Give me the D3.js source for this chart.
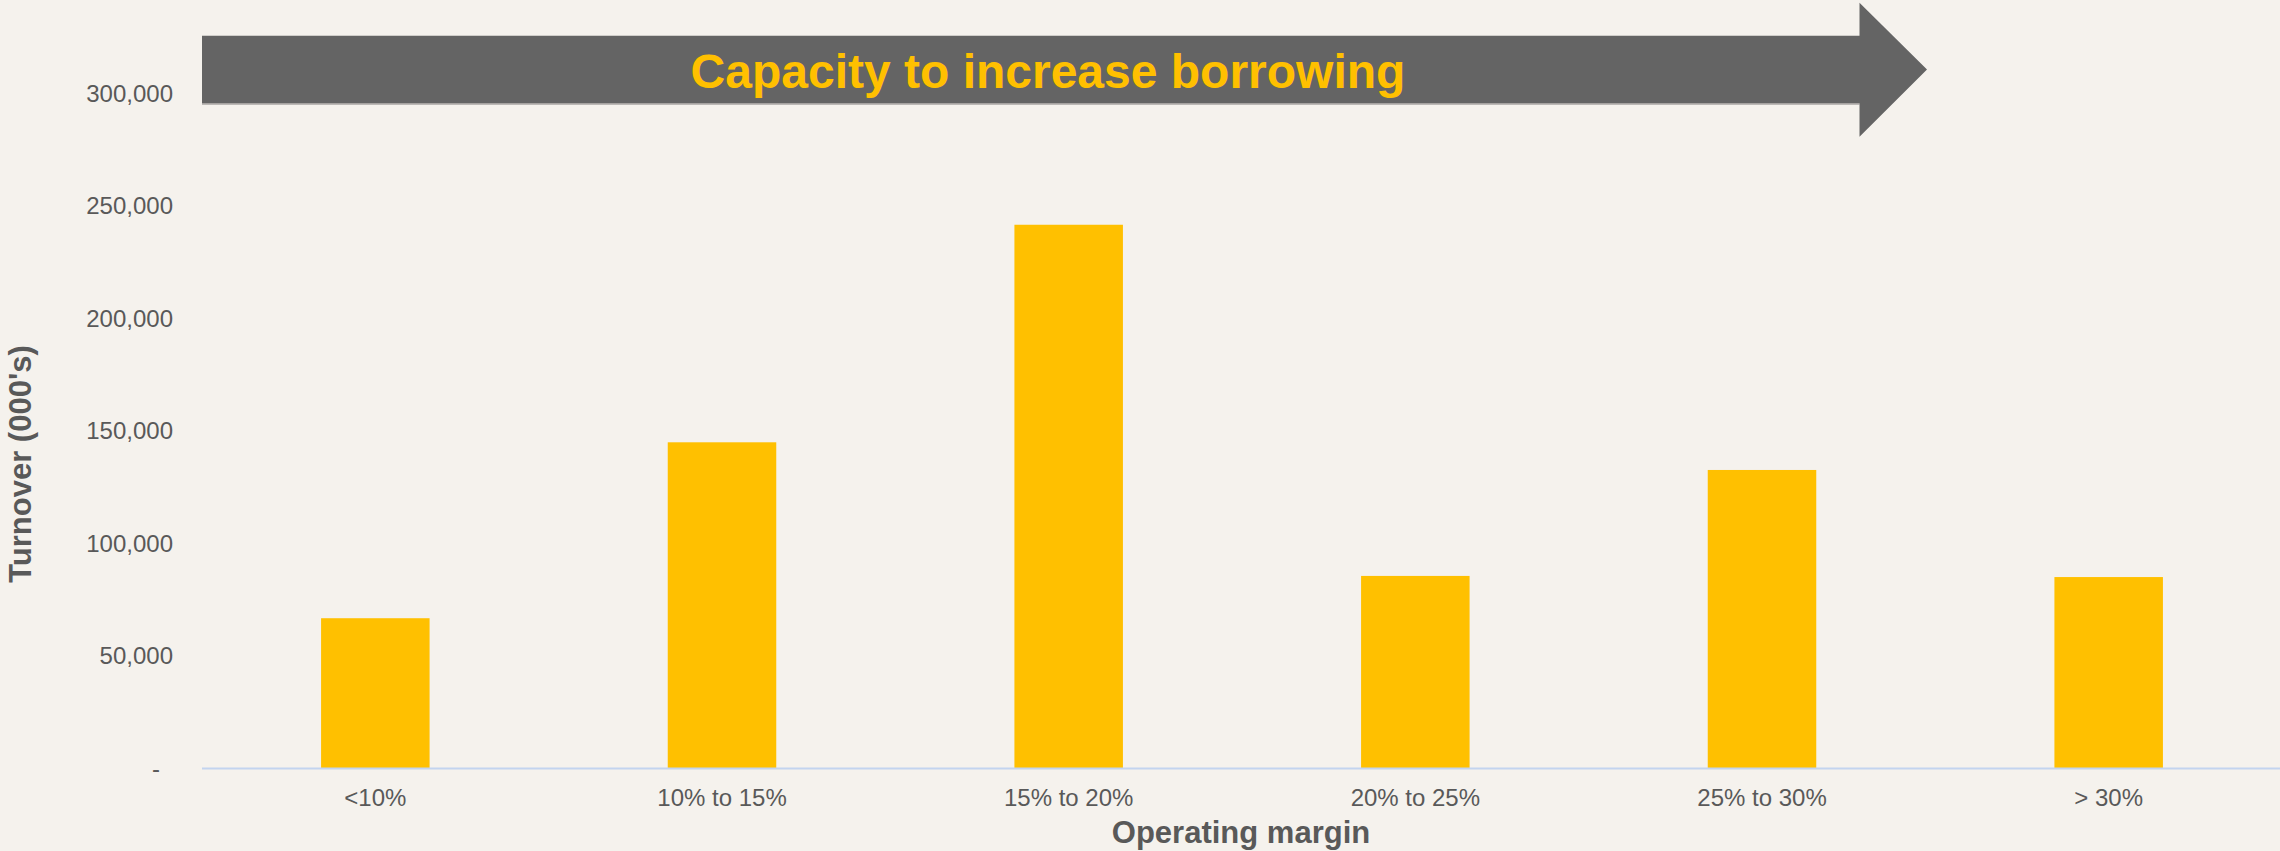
<!DOCTYPE html>
<html>
<head>
<meta charset="utf-8">
<script src="https://cdn.jsdelivr.net/npm/d3@7"></script>
<style>
    html, body { margin: 0; padding: 0; background: #f5f2ed; }
    svg { display: block; font-family: "Liberation Sans", Arial, sans-serif; }
</style>
</head>
<body>
<div id="chart"></div>
<script>
// Turnover (000's) by operating margin band
const categories = ["<10%", "10% to 15%", "15% to 20%", "20% to 25%", "25% to 30%", "> 30%"];
const turnover = [66800, 145000, 241700, 85600, 132700, 85100];
const yTicks = [0, 50000, 100000, 150000, 200000, 250000, 300000];
const arrowLabel = "Capacity to increase borrowing";

document.addEventListener('DOMContentLoaded', function () {
    drawChart();
});

function drawChart() {
    const width = 2280, height = 851;
    const textColor = "#595959";

    const svg = d3.select("#chart")
        .append("svg")
        .attr("width", width)
        .attr("height", height);

    svg.append("rect")
        .attr("width", width)
        .attr("height", height)
        .attr("fill", "#f5f2ed");

    const xScale = d3.scaleBand()
        .domain(categories)
        .range([202, 2282])
        .paddingInner(0.687)
        .paddingOuter(0.3435);

    const yScale = d3.scaleLinear().domain([0, 300000]).range([768.5, 93.6]);

    // Bars
    svg.selectAll(".bar")
        .data(categories)
        .enter()
        .append("rect")
        .attr("class", "bar")
        .attr("x", d => xScale(d))
        .attr("width", xScale.bandwidth())
        .attr("y", (d, i) => yScale(turnover[i]))
        .attr("height", (d, i) => yScale(0) - yScale(turnover[i]))
        .attr("fill", "#ffc000");

    // Baseline
    svg.append("line")
        .attr("x1", 202)
        .attr("x2", width)
        .attr("y1", yScale(0))
        .attr("y2", yScale(0))
        .attr("stroke", "#c3d4ef")
        .attr("stroke-width", 2);

    // Y axis
    const yAxis = svg.append("g")
        .attr("transform", "translate(202,0)")
        .call(d3.axisLeft(yScale)
            .tickValues(yTicks)
            .tickSize(0)
            .tickPadding(29)
            .tickFormat(d => d === 0 ? "-" : d3.format(",")(d)));
    yAxis.select(".domain").remove();
    yAxis.selectAll("text")
        .attr("fill", textColor)
        .style("font-size", "24px")
        .filter(d => d === 0)
        .attr("dx", -13);

    // X axis
    const xAxis = svg.append("g")
        .attr("transform", `translate(0,${yScale(0)})`)
        .call(d3.axisBottom(xScale).tickSize(0).tickPadding(20.5));
    xAxis.select(".domain").remove();
    xAxis.selectAll("text")
        .attr("fill", textColor)
        .style("font-size", "24px");

    // Axis titles
    svg.append("text")
        .attr("text-anchor", "middle")
        .attr("x", 1241)
        .attr("y", 843)
        .attr("fill", textColor)
        .style("font-size", "31px")
        .style("font-weight", "bold")
        .text("Operating margin");

    svg.append("text")
        .attr("text-anchor", "middle")
        .attr("transform", "translate(31,464) rotate(-90)")
        .attr("fill", textColor)
        .style("font-size", "31px")
        .style("font-weight", "bold")
        .text("Turnover (000's)");

    // Annotation arrow
    const arrow = d3.path();
    arrow.moveTo(202, 35.7);
    arrow.lineTo(1859.5, 35.7);
    arrow.lineTo(1859.5, 2.7);
    arrow.lineTo(1927, 69.5);
    arrow.lineTo(1859.5, 136.7);
    arrow.lineTo(1859.5, 103.3);
    arrow.lineTo(202, 103.3);
    arrow.closePath();

    svg.append("line")
        .attr("x1", 202)
        .attr("x2", 1859.5)
        .attr("y1", 104)
        .attr("y2", 104)
        .attr("stroke", "#a8a6a3")
        .attr("stroke-width", 1.5);

    svg.append("path")
        .attr("d", arrow.toString())
        .attr("fill", "#646464");

    svg.append("text")
        .attr("text-anchor", "middle")
        .attr("x", 1048)
        .attr("y", 88)
        .attr("fill", "#ffc000")
        .style("font-size", "48px")
        .style("font-weight", "bold")
        .text(arrowLabel);
}
</script>
</body>
</html>
